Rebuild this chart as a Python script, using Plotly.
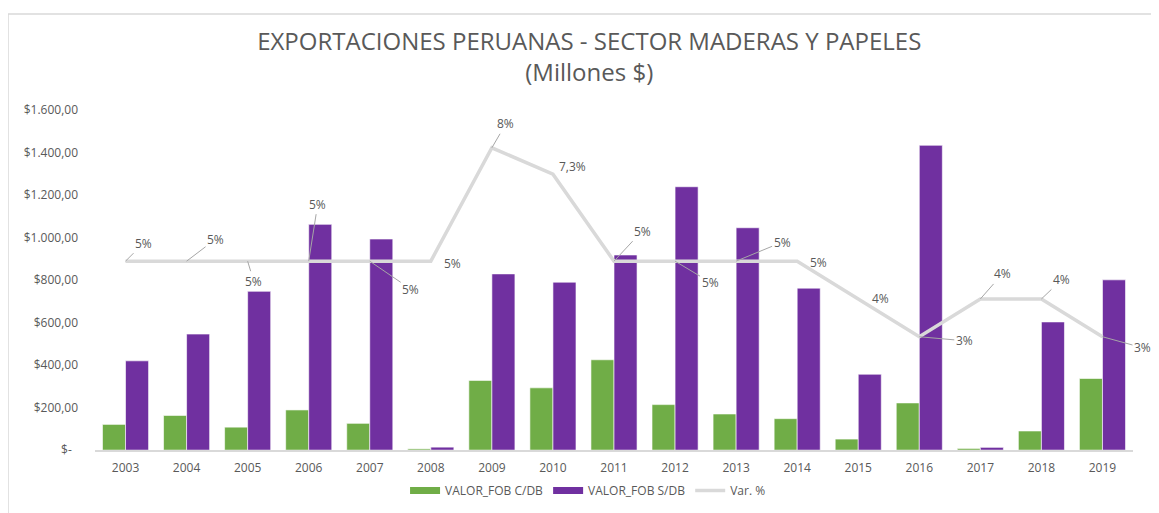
import plotly.graph_objects as go

# data (millions of US$)
years = [str(y) for y in range(2003, 2020)]
fob_cdb = [121, 163, 108, 189, 126, 6, 328, 293, 425, 214, 170, 148, 52, 222, 8, 90, 337]
fob_sdb = [420, 546, 747, 1062, 993, 14, 829, 790, 918, 1239, 1046, 762, 357, 1434, 13, 603, 801]
var_pct = [0.05, 0.05, 0.05, 0.05, 0.05, 0.05, 0.08, 0.073, 0.05, 0.05, 0.05, 0.05,
           0.04, 0.03, 0.04, 0.04, 0.03]
y_ticks = [0, 200, 400, 600, 800, 1000, 1200, 1400, 1600]

# label placement (pixel offsets from the point) and whether a leader line is drawn
label_dx = [18, 29, 6, 9, 41, 22, 14, 20, 28, 35, 46, 21, 22, 45, 22, 20, 40]
label_dy = [-18, -22, 20, -57, 28, 2, -24, -8, -30, 21, -19, 1, 0, 4, -25, -19, 11]
leader = [True, True, True, True, True, False, True, False, True, True, True, False,
          False, True, True, True, True]

GREEN = '#70AD47'
PURPLE = '#7030A0'
LINE = '#D9D9D9'
TEXT = '#595959'
FONT = 'Open Sans'

# the page body adds an 8px margin, so the figure is sized to fit inside the window
W, H = 1151, 505
L, R, T, B = 87, 26, 102, 0
PW, PH = W - L - R, H - T - B
AXIS_BOTTOM = 449          # figure px of the value axis zero line
y_dom0 = (H - B - AXIS_BOTTOM) / PH


def money(v):
    if v == 0:
        return '$-  '
    s = f"{v:,.2f}"
    s = s.replace(',', 'X').replace('.', ',').replace('X', '.')
    return '$' + s


def pct(v):
    return f"{v * 100:g}".replace('.', ',') + '%'


fig = go.Figure()

fig.add_trace(go.Bar(
    x=years, y=fob_cdb, name='VALOR_FOB C/DB',
    marker=dict(color=GREEN, line=dict(color='rgba(255,255,255,0.6)', width=1)),
    showlegend=False
))
fig.add_trace(go.Bar(
    x=years, y=fob_sdb, name='VALOR_FOB S/DB',
    marker=dict(color=PURPLE, line=dict(color='rgba(255,255,255,0.6)', width=1)),
    showlegend=False
))
fig.add_trace(go.Scatter(
    x=years, y=var_pct, name='Var. %', yaxis='y2',
    mode='lines', line=dict(color=LINE, width=3.5),
    showlegend=False
))

# legend entries drawn as thick strokes like the Excel swatches
for name, color, width in [('VALOR_FOB C/DB', GREEN, 7), ('VALOR_FOB S/DB', PURPLE, 7),
                           ('Var. %', LINE, 3.5)]:
    fig.add_trace(go.Scatter(x=[years[0]], y=[None], name=name, mode='lines',
                             line=dict(color=color, width=width)))

# category axis: annotations are placed by category index
for i, v in enumerate(var_pct):
    if leader[i]:
        fig.add_annotation(x=i, y=v, yref='y2', text=pct(v), showarrow=True,
                           arrowhead=0, arrowwidth=1, arrowcolor='#A6A6A6',
                           ax=label_dx[i], ay=label_dy[i],
                           font=dict(family=FONT, size=12, color=TEXT))
    else:
        fig.add_annotation(x=i, y=v, yref='y2', text=pct(v), showarrow=False,
                           xshift=label_dx[i], yshift=-label_dy[i],
                           font=dict(family=FONT, size=12, color=TEXT))

fig.update_layout(
    width=W, height=H,
    margin=dict(l=L, r=R, t=T, b=B),
    paper_bgcolor='white', plot_bgcolor='white',
    title=dict(text='EXPORTACIONES PERUANAS - SECTOR MADERAS Y PAPELES<br>(Millones $)',
               x=0.505, xanchor='center', y=0.917, yanchor='top',
               font=dict(family=FONT, size=24, color=TEXT)),
    barmode='group', bargap=0.245, bargroupgap=0,
    font=dict(family=FONT, size=12, color=TEXT),
    legend=dict(orientation='h', x=0.475, xanchor='center', y=0, yanchor='bottom',
                font=dict(family=FONT, size=12, color=TEXT), itemwidth=30),
    xaxis=dict(type='category', categoryorder='array', categoryarray=years,
               range=[-0.5, len(years) - 0.5],
               showline=True, linecolor=LINE, linewidth=1.5, ticks='', showgrid=False,
               ticklabelstandoff=6, tickfont=dict(size=12, color=TEXT)),
    yaxis=dict(domain=[y_dom0, 1], range=[0, 1600], tickvals=y_ticks,
               ticktext=[money(v) for v in y_ticks],
               showgrid=False, zeroline=False, showline=False, ticks='',
               ticklabelstandoff=16, tickfont=dict(size=12, color=TEXT)),
    yaxis2=dict(range=[0, 0.09], overlaying='y', side='right', visible=False),
    shapes=[dict(type='rect', xref='paper', yref='paper',
                 x0=-L / PW, x1=1.2, y0=-0.5, y1=(PH + T - 4) / PH,
                 line=dict(color=LINE, width=1.5))],
)

fig.write_html("out.html")
